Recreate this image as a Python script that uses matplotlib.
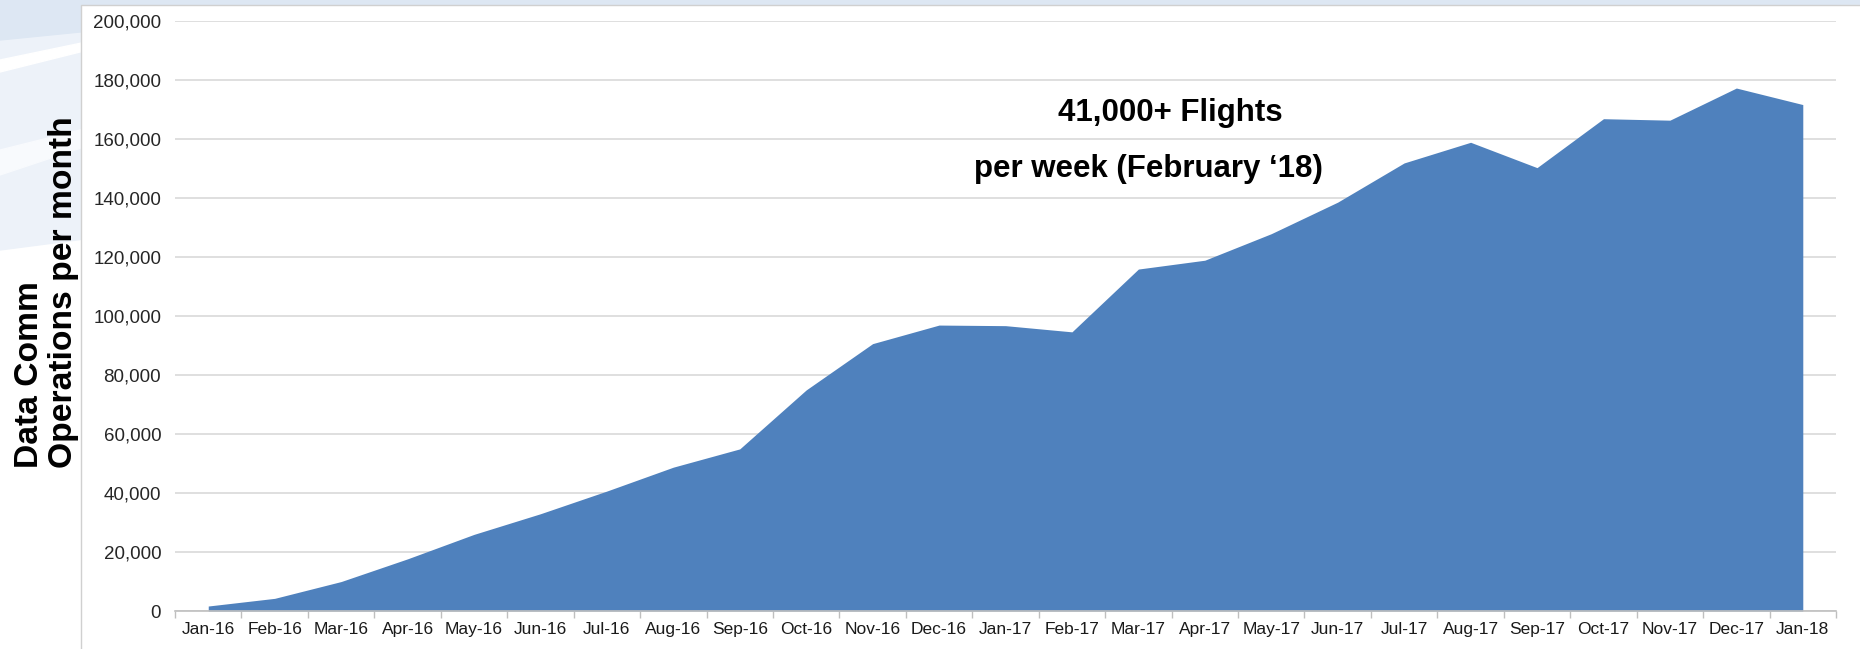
import numpy as np
import matplotlib.pyplot as plt
from matplotlib.patches import Rectangle, Polygon
from matplotlib.ticker import FuncFormatter, FixedLocator

plt.rcParams['font.family'] = ['Liberation Sans', 'DejaVu Sans']

months = ['Jan-16', 'Feb-16', 'Mar-16', 'Apr-16', 'May-16', 'Jun-16', 'Jul-16',
          'Aug-16', 'Sep-16', 'Oct-16', 'Nov-16', 'Dec-16', 'Jan-17', 'Feb-17',
          'Mar-17', 'Apr-17', 'May-17', 'Jun-17', 'Jul-17', 'Aug-17', 'Sep-17',
          'Oct-17', 'Nov-17', 'Dec-17', 'Jan-18']
operations = [1700, 4300, 10000, 17700, 26000, 33000, 40700, 48800, 55000,
              75000, 90700, 97000, 96800, 94700, 116000, 119000, 128000,
              138700, 152000, 159000, 150400, 167000, 166500, 177400, 171800]
y_ticks = [0, 20000, 40000, 60000, 80000, 100000, 120000, 140000, 160000,
           180000, 200000]

fig = plt.figure(figsize=(18.6, 6.49), dpi=100)

# background slide with light swooshes on the left
bg = fig.add_axes([0, 0, 1, 1])
bg.set_xlim(0, 1860)
bg.set_ylim(649, 0)
bg.axis('off')
bg.add_patch(Rectangle((0, 0), 1860, 649, color='white', zorder=0))
bg.add_patch(Polygon([(0, 0), (1860, 0), (1860, 8), (0, 250)], closed=True,
                     color='#edf2f9', zorder=1))
bg.add_patch(Polygon([(0, 0), (1860, 0), (1860, 4), (200, 20), (0, 40)],
                     closed=True, color='#dde7f3', zorder=1))
bg.add_patch(Polygon([(0, 60), (120, 35), (120, 42), (0, 72)], closed=True,
                     color='white', zorder=1))
bg.add_patch(Polygon([(0, 150), (120, 120), (120, 135), (0, 175)],
                     closed=True, color='#f8fafd', zorder=1))
bg.add_patch(Rectangle((81, 5), 1790, 660, facecolor='white',
                       edgecolor='#d0d0d0', linewidth=1, zorder=2))

ax = fig.add_axes([0.0941, 0.0585, 0.893, 0.9085])
ax.patch.set_alpha(0)

x = np.arange(len(months))
ax.fill_between(x, operations, 0, color='#4f81bd', linewidth=0, zorder=2)

ax.set_xlim(-0.5, len(months) - 0.5)
ax.set_ylim(0, 200000)
ax.set_yticks(y_ticks)
ax.yaxis.set_major_formatter(FuncFormatter(lambda v, p: f'{int(v):,}'))
ax.grid(axis='y', color='#d9d9d9', linewidth=1.2, zorder=0)
ax.set_axisbelow(True)

ax.set_xticks(x)
ax.set_xticklabels(months)
ax.xaxis.set_minor_locator(FixedLocator(np.arange(-0.5, len(months), 1)))
ax.tick_params(axis='x', which='major', length=0, pad=8, labelsize=12.5,
               labelcolor='#1a1a1a')
ax.tick_params(axis='x', which='minor', length=5, color='#bfbfbf', width=1)
ax.tick_params(axis='y', length=0, pad=10, labelsize=13.5, labelcolor='#262626')

for s in ['top', 'right', 'left']:
    ax.spines[s].set_visible(False)
ax.spines['bottom'].set_color('#bfbfbf')
ax.spines['bottom'].set_linewidth(1.2)

fig.text(0.0075, 0.279, 'Data Comm', rotation=90, ha='left', va='bottom',
         fontsize=24.2, fontweight='bold')
fig.text(0.0256, 0.279, 'Operations per month', rotation=90, ha='left',
         va='bottom', fontsize=24.2, fontweight='bold')

ax.text(0.599, 0.845, '41,000+ Flights', transform=ax.transAxes, ha='center',
        va='center', fontsize=22.5, fontweight='bold')
ax.text(0.586, 0.749, 'per week (February \u201818)', transform=ax.transAxes,
        ha='center', va='center', fontsize=22.5, fontweight='bold')

fig.savefig('out.png', dpi=100)
